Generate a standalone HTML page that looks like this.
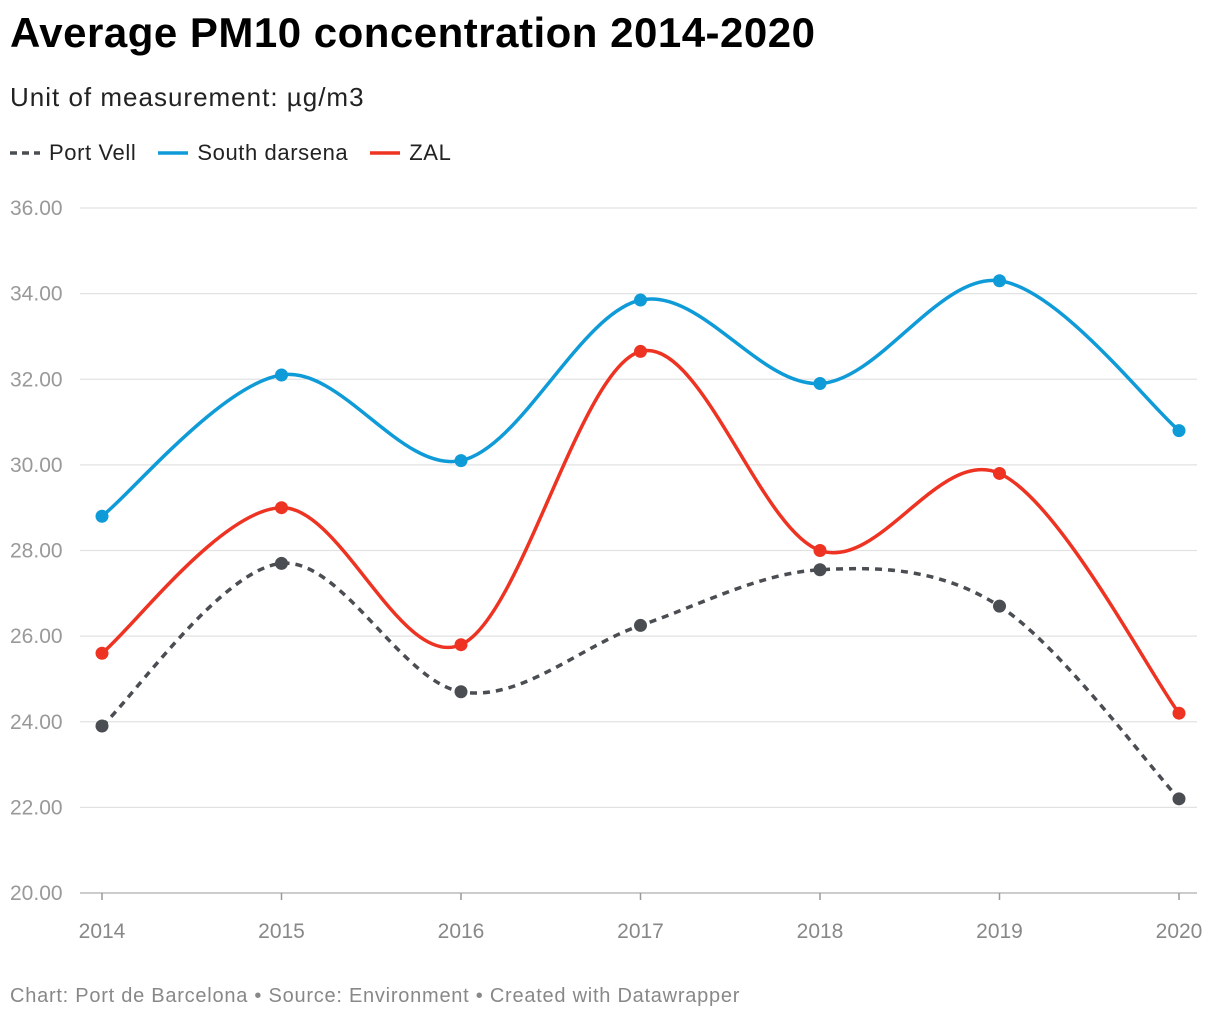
<!DOCTYPE html>
<html><head><meta charset="utf-8"><style>
body{margin:0;background:#fff;font-family:"Liberation Sans",sans-serif;}
#wrap{position:relative;width:1220px;height:1020px;}
h1{position:absolute;left:10px;top:9px;margin:0;font-size:42px;font-weight:bold;color:#000;letter-spacing:0.5px}
.sub{position:absolute;left:10px;top:82px;font-size:26px;color:#222;letter-spacing:1px}
.legend{position:absolute;left:10px;top:140px;font-size:22px;color:#222;display:flex;gap:22px;align-items:center;letter-spacing:0.6px}
.legend span{display:flex;align-items:center;gap:9px}
.foot{position:absolute;left:10px;top:985px;font-size:20px;color:#888;letter-spacing:0.75px}
svg{position:absolute;left:0;top:0}
</style></head><body>
<div id="wrap">
<h1>Average PM10 concentration 2014-2020</h1>
<div class="sub">Unit of measurement: µg/m3</div>
<div class="legend">
<span><svg style="position:static" width="30" height="6"><line x1="0" y1="3" x2="30" y2="3" stroke="#4a4d52" stroke-width="3.5" stroke-dasharray="7,5"/></svg>Port Vell</span>
<span><svg style="position:static" width="30" height="6"><line x1="0" y1="3" x2="30" y2="3" stroke="#0e9bd8" stroke-width="3.5"/></svg>South darsena</span>
<span><svg style="position:static" width="30" height="6"><line x1="0" y1="3" x2="30" y2="3" stroke="#ee3322" stroke-width="3.5"/></svg>ZAL</span>
</div>
<svg id="chart" width="1220" height="1020"></svg>
<div class="foot">Chart: Port de Barcelona • Source: Environment • Created with Datawrapper</div>
</div>
<script>
const years=["2014","2015","2016","2017","2018","2019","2020"];
const portVell=[23.9,27.7,24.7,26.25,27.55,26.7,22.2];
const southDarsena=[28.8,32.1,30.1,33.85,31.9,34.3,30.8];
const zal=[25.6,29.0,25.8,32.65,28.0,29.8,24.2];
const yTicks=[20,22,24,26,28,30,32,34,36];
const NS="http://www.w3.org/2000/svg";
const svg=document.getElementById('chart');
const x=i=>102+i*(1179-102)/(years.length-1);
const y=v=>893-(v-20)*(893-208)/16;
function mk(t,a){const e=document.createElementNS(NS,t);for(const k in a)e.setAttribute(k,a[k]);svg.appendChild(e);return e;}
yTicks.forEach(t=>{
 const g=mk('line',{x1:80,x2:1197,y1:y(t),y2:y(t),stroke:t===20?'#bbb':'#e2e2e2','stroke-width':t===20?1.5:1.2});
 
 
 const l=mk('text',{x:10,y:y(t)+7,'font-size':21,fill:'#999','font-family':'Liberation Sans,sans-serif'});
 l.textContent=t.toFixed(2);
 
 
});
years.forEach((yr,i)=>{
 const tk=mk('line',{x1:x(i),x2:x(i),y1:893,y2:900,stroke:'#999','stroke-width':1.5});
 
 
 const l=mk('text',{x:x(i),y:938,'font-size':21,fill:'#888','text-anchor':'middle','font-family':'Liberation Sans,sans-serif'});
 l.textContent=yr;
 
 
});
function path(vals){
 const p=vals.map((v,i)=>[x(i),y(v)]);
 let d=`M${p[0][0]},${p[0][1]}`;
 for(let i=0;i<p.length-1;i++){
  const p0=p[i-1]||p[i],p1=p[i],p2=p[i+1],p3=p[i+2]||p[i+1];
  const c1=[p1[0]+(p2[0]-p0[0])/6,p1[1]+(p2[1]-p0[1])/6];
  const c2=[p2[0]-(p3[0]-p1[0])/6,p2[1]-(p3[1]-p1[1])/6];
  d+=` C${c1[0]},${c1[1]} ${c2[0]},${c2[1]} ${p2[0]},${p2[1]}`;
 }
 return d;
}
[[portVell,'#4a4d52','port-vell','7,6'],[southDarsena,'#0e9bd8','south-darsena',''],[zal,'#ee3322','zal','']].forEach(([vals,c,n,dash])=>{
 const l=mk('path',{d:path(vals),fill:'none',stroke:c,'stroke-width':3.5,'stroke-dasharray':dash});
 
 
 vals.forEach((v,i)=>{
  const pt=mk('circle',{cx:x(i),cy:y(v),r:6.5,fill:c});
  
  
 });
});
</script>
</body></html>
